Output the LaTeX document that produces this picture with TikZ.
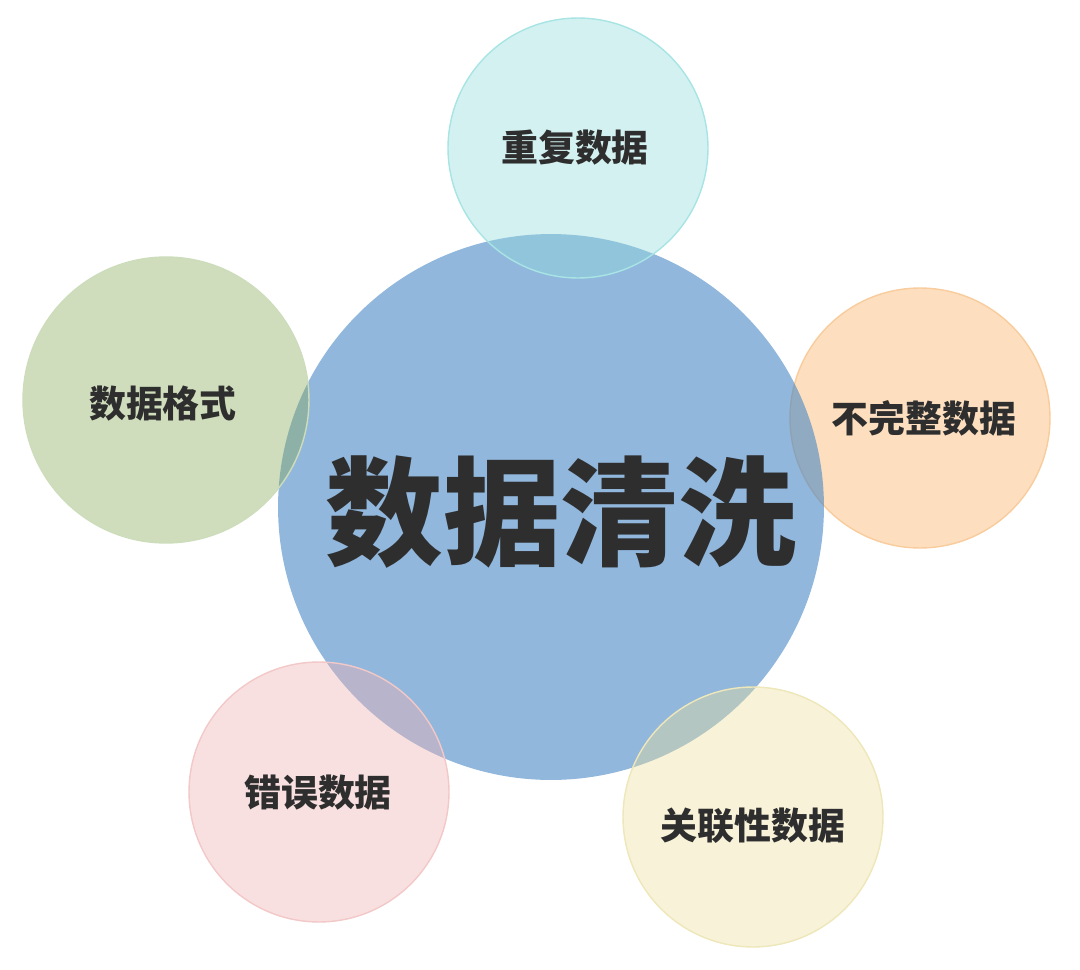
\documentclass[tikz,border=0pt]{standalone}
\usepackage{fontspec}
\newfontfamily\cjk{Noto Sans CJK SC}
\definecolor{coreblue}{RGB}{72,135,197}
\definecolor{tealfill}{RGB}{145,220,220}
\definecolor{tealline}{RGB}{168,228,228}
\definecolor{greenfill}{RGB}{135,170,88}
\definecolor{greenline}{RGB}{205,220,186}
\definecolor{pinkfill}{RGB}{240,177,177}
\definecolor{pinkline}{RGB}{243,200,200}
\definecolor{yellowfill}{RGB}{235,222,157}
\definecolor{yellowline}{RGB}{238,231,186}
\definecolor{orangefill}{RGB}{253,223,191}
\definecolor{orangeline}{RGB}{248,204,156}
\definecolor{textgrey}{RGB}{46,46,46}

\begin{document}
\begin{tikzpicture}[x=0.02cm,y=-0.02cm]
        %
        % `bubble' is used for the small circles round the centre.
        % `core' is used for the big circle in the middle.
        % `tag' and `title' are used for the texts.
        \tikzstyle{bubble} = [circle,minimum size=5.2cm,inner sep=0pt,line width=0.8pt,fill opacity=0.4]
        \tikzstyle{core} = [circle,minimum size=10.92cm,inner sep=0pt,fill=coreblue,fill opacity=0.6]
        \tikzstyle{tag} = [font=\cjk\bfseries\fontsize{21}{21}\selectfont,text=textgrey,inner sep=0pt]
        \tikzstyle{title} = [font=\cjk\bfseries\fontsize{67}{67}\selectfont,text=textgrey,inner sep=0pt]
        %
        \useasboundingbox (0,0) rectangle (1080,970);
        %
        % Right bubble (lies under the core)
        \node[bubble,fill=orangefill,fill opacity=1,draw=orangeline] (incomplete) at (920,418) {};
        %
        % Core
        \node[core] (clean) at (551,507) {};
        %
        % Bubbles on top of the core
        \node[bubble,fill=tealfill,draw=tealline] (duplicate) at (578,148) {};
        \node[bubble,fill=greenfill,draw=greenline,minimum size=5.72cm] (format) at (166,400) {};
        \node[bubble,fill=pinkfill,draw=pinkline] (wrong) at (319,792) {};
        \node[bubble,fill=yellowfill,draw=yellowline] (related) at (753,817) {};
        %
        % Texts
        \node[title] (cleantext) at (561,512) {数据清洗};
        \node[tag] (duplicatetext) at (575,148) {重复数据};
        \node[tag] (formattext) at (163,404) {数据格式};
        \node[tag] (incompletetext) at (924,418) {不完整数据};
        \node[tag] (wrongtext) at (318,793) {错误数据};
        \node[tag] (relatedtext) at (753,826) {关联性数据};
        %
\end{tikzpicture}
\end{document}
